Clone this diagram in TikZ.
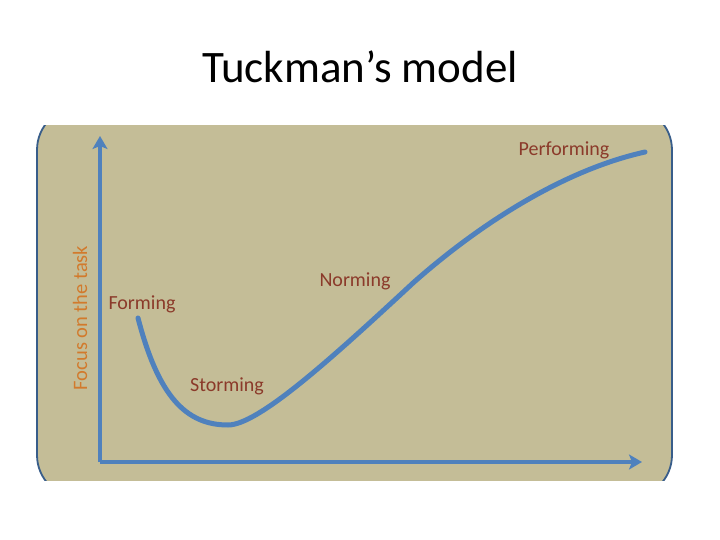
\documentclass[tikz,border=0pt]{standalone}
\usepackage{fontspec}
\setmainfont{Carlito}
\usetikzlibrary{arrows.meta}
\definecolor{tan}{HTML}{C4BD97}
\definecolor{frame}{HTML}{385D8A}
\definecolor{curveblue}{HTML}{4F81BD}
\definecolor{stagered}{HTML}{8B3A2A}
\definecolor{axisorange}{HTML}{D27A2C}
\tikzset{
  axis/.style={draw=curveblue, line width=4.5pt, -{Stealth[length=13pt,width=15pt,inset=3pt]}},
  tcurve/.style={draw=curveblue, line width=5pt, line cap=round},
  stage/.style={text=stagered, font=\fontsize{20}{24}\selectfont, inner sep=0pt},
}
\begin{document}
\begin{tikzpicture}[x=1pt,y=-1pt]
\useasboundingbox (0,0) rectangle (720,540);
\node[font=\fontsize{45}{50}\selectfont, inner sep=0pt] (title) at (360,67) {Tuckman’s model};
\begin{scope}
  \clip (0,126) rectangle (720,480);
  \draw[fill=tan, draw=frame, line width=1.8pt, rounded corners=43pt] (37,107) rectangle (672,498);
\end{scope}
\coordinate (origin) at (100,462);
\coordinate (ytip) at (100,136);
\coordinate (xtip) at (642,462);
\draw[axis] (origin) -- (ytip);
\draw[axis] (origin) -- (xtip);
\node[rotate=90, text=axisorange, font=\fontsize{20.5}{24}\selectfont, inner sep=0pt] (ylab) at (80,318) {Focus on the task};
\coordinate (p0) at (138,318);
\coordinate (p1) at (228,425);
\coordinate (p2) at (413,283);
\coordinate (p3) at (645,152);
\draw[tcurve] (p0) .. controls (158,395) and (185,425) .. (p1)
  .. controls (258,425) and (330,360) .. (p2)
  .. controls (468,234) and (555,172) .. (p3);
\node[stage] (forming) at (142,304) {Forming};
\node[stage] (storming) at (227,386) {Storming};
\node[stage] (norming) at (355,281) {Norming};
\node[stage] (performing) at (564,150) {Performing};
\end{tikzpicture}
\end{document}
